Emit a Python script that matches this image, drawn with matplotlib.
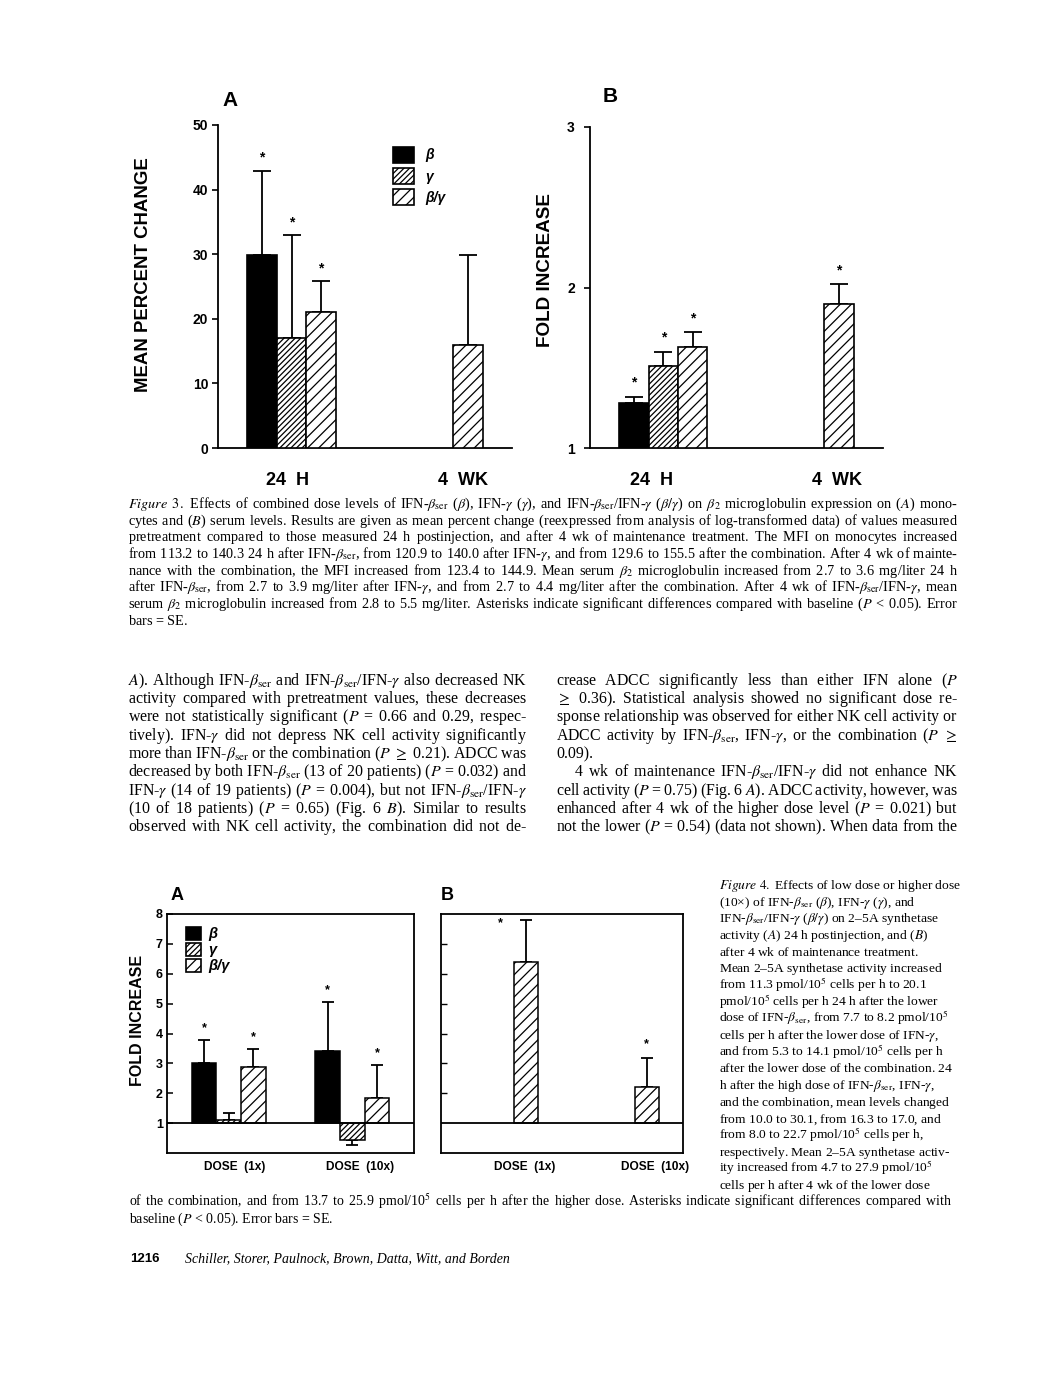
import numpy as np
import matplotlib
matplotlib.use('Agg')
import matplotlib.pyplot as plt
from matplotlib.patches import Patch

plt.rcParams['mathtext.fontset'] = 'stix'
plt.rcParams['hatch.linewidth'] = 0.9

W, H = 1056, 1378
SANS = 'Liberation Sans'
SERIF = 'Liberation Serif'
nan = np.nan

# ---------------- data ----------------
series_labels = ['β', 'γ', 'β/γ']
fig3_groups = ['24  H', '4  WK']
fig4_groups = ['DOSE  (1x)', 'DOSE  (10x)']

# Figure 3A: mean percent change (rows: groups, cols: series)
f3a_mean = [[29.8, 17.0, 21.0], [nan, nan, 16.0]]
f3a_errtop = [[42.9, 32.9, 25.8], [nan, nan, 29.8]]
f3a_sig = [[1, 1, 1], [0, 0, 0]]

# Figure 3B: fold increase
f3b_mean = [[1.28, 1.51, 1.63], [nan, nan, 1.90]]
f3b_errtop = [[1.32, 1.60, 1.72], [nan, nan, 2.02]]
f3b_sig = [[1, 1, 1], [0, 0, 1]]

# Figure 4A: fold increase, 24 h
f4a_mean = [[3.02, 1.09, 2.87], [3.40, 0.45, 1.84]]
f4a_errtop = [[3.79, 1.34, 3.48], [5.04, 0.26, 2.93]]
f4a_sig = [[1, 0, 1], [1, 0, 1]]

# Figure 4B: fold increase, 4 wk
f4b_mean = [[nan, nan, 6.40], [nan, nan, 2.21]]
f4b_errtop = [[nan, nan, 7.80], [nan, nan, 3.18]]
f4b_sig = [[0, 0, 1], [0, 0, 1]]

# ---------------- styles ----------------
group_centers = [2.5, 7.5]
offsets = [-1.0, 0.0, 1.0]
bar_w = 1.0
facecolors = ['black', 'white', 'white']
hatches = [None, '//////', '///']

fig = plt.figure(figsize=(W / 100, H / 100), dpi=100)
renderer = fig.canvas.get_renderer()


def fx(x):
    return x / W


def fy(y):
    return 1 - y / H


def add_ax(l, t, r, b):
    return fig.add_axes([fx(l), fy(b), (r - l) / W, (b - t) / H])


def draw_bars(ax, mean, errtop, sig, base, capsize, star_dx, star_dy, lw=1.2, star_size=9):
    for gi, gc in enumerate(group_centers):
        for si, off in enumerate(offsets):
            v = mean[gi][si]
            if np.isnan(v):
                continue
            x = gc + off
            ax.bar(x, v - base, bottom=base, width=bar_w, facecolor=facecolors[si],
                   edgecolor='black', hatch=hatches[si], linewidth=lw, zorder=3)
            e = errtop[gi][si]
            if v >= base:
                yerr = [[0], [e - v]]
            else:
                yerr = [[v - e], [0]]
            ax.errorbar([x], [v], yerr=yerr, fmt='none', ecolor='black',
                        elinewidth=1.3, capsize=capsize, capthick=1.3, zorder=2)
            if sig[gi][si]:
                ax.annotate('*', (x, e), xytext=(star_dx[gi], star_dy[gi]),
                            textcoords='offset pixels', ha='center', va='center',
                            fontsize=star_size, fontweight='bold', family=SANS)


def legend_handles():
    return [Patch(facecolor=facecolors[i], edgecolor='black', hatch=hatches[i], linewidth=1.2)
            for i in range(3)]


def style_yticks(ax, size):
    for lab in ax.get_yticklabels():
        lab.set_fontweight('bold')
        lab.set_family(SANS)
        lab.set_fontsize(size)


# ---------------- Figure 3A ----------------
ax = add_ax(218, 125, 512, 448)
draw_bars(ax, f3a_mean, f3a_errtop, f3a_sig, 0.0, 6.5, [0, 0], [13, 13], star_size=10)
ax.set_xlim(0, 10)
ax.set_ylim(0, 50)
ax.set_yticks(range(0, 51, 10))
ax.set_xticks([2.35, 8.33])
ax.set_xticklabels(fig3_groups, fontsize=13, fontweight='bold', family=SANS)
ax.tick_params(axis='x', length=0, pad=17)
ax.tick_params(axis='y', direction='out', length=4, width=1.2, pad=3)
style_yticks(ax, 10)
for s in ['top', 'right']:
    ax.spines[s].set_visible(False)
for s in ['left', 'bottom']:
    ax.spines[s].set_linewidth(1.3)
ax.legend(legend_handles(), series_labels, loc='upper left',
          bbox_to_anchor=(fx(393), fy(147)), bbox_transform=fig.transFigure,
          frameon=False, borderpad=0, borderaxespad=0, handlelength=1.5,
          handleheight=1.35, handletextpad=0.8, labelspacing=0.4,
          prop=dict(family=SANS, weight='bold', style='italic', size=10))

# ---------------- Figure 3B ----------------
ax = add_ax(590, 127, 883, 448)
draw_bars(ax, f3b_mean, f3b_errtop, f3b_sig, 1.0, 6.5, [0, 0], [14, 14], star_size=10)
ax.set_xlim(0, 10)
ax.set_ylim(1, 3)
ax.set_yticks([1, 2, 3])
ax.set_xticks([2.1, 8.43])
ax.set_xticklabels(fig3_groups, fontsize=13, fontweight='bold', family=SANS)
ax.tick_params(axis='x', length=0, pad=17)
ax.tick_params(axis='y', direction='out', length=4, width=1.2, pad=7)
style_yticks(ax, 10)
for s in ['top', 'right']:
    ax.spines[s].set_visible(False)
for s in ['left', 'bottom']:
    ax.spines[s].set_linewidth(1.3)

# ---------------- Figure 4A ----------------
ax = add_ax(167, 914, 414, 1153)
ax.axhline(1, color='black', linewidth=1.3, zorder=4)
draw_bars(ax, f4a_mean, f4a_errtop, f4a_sig, 1.0, 4, [0, 0], [12, 12], lw=1.1)
ax.set_xlim(0, 10)
ax.set_ylim(0, 8)
ax.set_yticks(range(1, 9))
ax.set_xticks([2.75, 7.81])
ax.set_xticklabels(fig4_groups, fontsize=8.6, fontweight='bold', family=SANS)
ax.tick_params(axis='x', length=0, pad=6)
ax.tick_params(axis='y', direction='in', length=4, width=1.1, pad=3)
style_yticks(ax, 9)
for s in ax.spines.values():
    s.set_linewidth(1.3)
ax.legend(legend_handles(), series_labels, loc='upper left',
          bbox_to_anchor=(fx(186), fy(927)), bbox_transform=fig.transFigure,
          frameon=False, borderpad=0, borderaxespad=0, handlelength=1.05,
          handleheight=0.95, handletextpad=0.45, labelspacing=0.12,
          prop=dict(family=SANS, weight='bold', style='italic', size=10.5))

# ---------------- Figure 4B ----------------
ax = add_ax(441, 914, 683, 1153)
ax.axhline(1, color='black', linewidth=1.3, zorder=4)
draw_bars(ax, f4b_mean, f4b_errtop, f4b_sig, 1.0, 4, [-25, 0], [-3, 14], lw=1.1)
ax.set_xlim(0, 10)
ax.set_ylim(0, 8)
ax.set_yticks(range(2, 8))
ax.set_yticklabels([])
ax.set_xticks([3.47, 8.84])
ax.set_xticklabels(fig4_groups, fontsize=8.6, fontweight='bold', family=SANS)
ax.tick_params(axis='x', length=0, pad=6)
ax.tick_params(axis='y', direction='in', length=4, width=1.0)
for s in ax.spines.values():
    s.set_linewidth(1.3)


# ---------------- panel letters and axis titles ----------------
def ftxt(x, y, s, **kw):
    return fig.text(fx(x), fy(y), s, **kw)


ftxt(230, 101, 'A', fontsize=15, fontweight='bold', family=SANS, ha='center', va='center')
ftxt(610, 96, 'B', fontsize=15, fontweight='bold', family=SANS, ha='center', va='center')
ftxt(177, 895, 'A', fontsize=13, fontweight='bold', family=SANS, ha='center', va='center')
ftxt(447, 895, 'B', fontsize=13, fontweight='bold', family=SANS, ha='center', va='center')
ftxt(143, 275, 'MEAN PERCENT CHANGE', fontsize=13.4, fontweight='bold', family=SANS,
     rotation=90, ha='center', va='center')
ftxt(545, 270, 'FOLD INCREASE', fontsize=13.6, fontweight='bold', family=SANS,
     rotation=90, ha='center', va='center')
ftxt(138, 1020, 'FOLD INCREASE', fontsize=11.5, fontweight='bold', family=SANS,
     rotation=90, ha='center', va='center')


# ---------------- running text (each line is one text object) ----------------
def conv(w):
    if w.startswith('§'):
        return r'$\mathit{%s}$' % w[1:]
    return w


def put_line(s, x0, x1, yc, size, justify=True, family=SERIF):
    words = [conv(w) for w in s.split()]
    n = len(words)

    def build(g):
        if n == 1:
            return words[0]
        sep = r'$\hspace{%.4f}$' % g
        return sep.join(words)

    t = fig.text(fx(x0), 0.5, build(0), fontsize=size, family=family,
                 ha='left', va='baseline')
    while True:
        t.set_fontsize(size)
        t.set_text(build(0))
        w0 = t.get_window_extent(renderer).width
        px = size * 100 / 72
        if n > 1:
            t.set_text(build(1))
            em = (t.get_window_extent(renderer).width - w0) / (n - 1)
        else:
            em = px
        if w0 + (n - 1) * 0.2 * px <= (x1 - x0) or size < 6:
            break
        size *= 0.98
    if justify and n > 1:
        g = (x1 - x0 - w0) / (n - 1) / em
    else:
        g = 0.25 * px / em
    t.set_text(build(g))
    t.set_position((fx(x0), fy(yc + 0.22 * px)))


cap3 = [
    r"§Figure §3. Effects of combined dose levels of IFN-$\beta_{\mathrm{ser}}$ ($\beta$), IFN-$\gamma$ ($\gamma$), and IFN-$\beta_{\mathrm{ser}}$/IFN-$\gamma$ ($\beta/\gamma$) on $\beta_2$ microglobulin expression on ($A$) mono-",
    r"cytes and ($B$) serum levels. Results are given as mean percent change (reexpressed from analysis of log-transformed data) of values measured",
    r"pretreatment compared to those measured 24 h postinjection, and after 4 wk of maintenance treatment. The MFI on monocytes increased",
    r"from 113.2 to 140.3 24 h after IFN-$\beta_{\mathrm{ser}}$, from 120.9 to 140.0 after IFN-$\gamma$, and from 129.6 to 155.5 after the combination. After 4 wk of mainte-",
    r"nance with the combination, the MFI increased from 123.4 to 144.9. Mean serum $\beta_2$ microglobulin increased from 2.7 to 3.6 mg/liter 24 h",
    r"after IFN-$\beta_{\mathrm{ser}}$, from 2.7 to 3.9 mg/liter after IFN-$\gamma$, and from 2.7 to 4.4 mg/liter after the combination. After 4 wk of IFN-$\beta_{\mathrm{ser}}$/IFN-$\gamma$, mean",
    r"serum $\beta_2$ microglobulin increased from 2.8 to 5.5 mg/liter. Asterisks indicate significant differences compared with baseline ($P$ < 0.05). Error",
    r"bars = SE.",
]
cap3_y = [505, 522, 538, 555, 572, 588, 605, 622]
for i, (s, y) in enumerate(zip(cap3, cap3_y)):
    put_line(s, 128, 958, y, 10.3, justify=(i < len(cap3) - 1))

left_col = [
    r"$A$). Although IFN-$\beta_{\mathrm{ser}}$ and IFN-$\beta_{\mathrm{ser}}$/IFN-$\gamma$ also decreased NK",
    r"activity compared with pretreatment values, these decreases",
    r"were not statistically significant ($P$ = 0.66 and 0.29, respec-",
    r"tively). IFN-$\gamma$ did not depress NK cell activity significantly",
    r"more than IFN-$\beta_{\mathrm{ser}}$ or the combination ($P$ $\geq$ 0.21). ADCC was",
    r"decreased by both IFN-$\beta_{\mathrm{ser}}$ (13 of 20 patients) ($P$ = 0.032) and",
    r"IFN-$\gamma$ (14 of 19 patients) ($P$ = 0.004), but not IFN-$\beta_{\mathrm{ser}}$/IFN-$\gamma$",
    r"(10 of 18 patients) ($P$ = 0.65) (Fig. 6 $B$). Similar to results",
    r"observed with NK cell activity, the combination did not de-",
]
right_col = [
    r"crease ADCC significantly less than either IFN alone ($P$",
    r"$\geq$ 0.36). Statistical analysis showed no significant dose re-",
    r"sponse relationship was observed for either NK cell activity or",
    r"ADCC activity by IFN-$\beta_{\mathrm{ser}}$, IFN-$\gamma$, or the combination ($P$ $\geq$",
    r"0.09).",
    r"4 wk of maintenance IFN-$\beta_{\mathrm{ser}}$/IFN-$\gamma$ did not enhance NK",
    r"cell activity ($P$ = 0.75) (Fig. 6 $A$). ADCC activity, however, was",
    r"enhanced after 4 wk of the higher dose level ($P$ = 0.021) but",
    r"not the lower ($P$ = 0.54) (data not shown). When data from the",
]
body_y = [682, 700, 718, 737, 755, 773, 792, 810, 828]
for s, y in zip(left_col, body_y):
    put_line(s, 128, 527, y, 11.4)
for i, (s, y) in enumerate(zip(right_col, body_y)):
    x0 = 574 if i == 5 else 556
    put_line(s, x0, 958, y, 11.4, justify=(i != 4))

cap4 = [
    r"§Figure §4. Effects of low dose or higher dose",
    r"(10×) of IFN-$\beta_{\mathrm{ser}}$ ($\beta$), IFN-$\gamma$ ($\gamma$), and",
    r"IFN-$\beta_{\mathrm{ser}}$/IFN-$\gamma$ ($\beta/\gamma$) on 2–5A synthetase",
    r"activity ($A$) 24 h postinjection, and ($B$)",
    r"after 4 wk of maintenance treatment.",
    r"Mean 2–5A synthetase activity increased",
    r"from 11.3 pmol/10$^5$ cells per h to 20.1",
    r"pmol/10$^5$ cells per h 24 h after the lower",
    r"dose of IFN-$\beta_{\mathrm{ser}}$, from 7.7 to 8.2 pmol/10$^5$",
    r"cells per h after the lower dose of IFN-$\gamma$,",
    r"and from 5.3 to 14.1 pmol/10$^5$ cells per h",
    r"after the lower dose of the combination. 24",
    r"h after the high dose of IFN-$\beta_{\mathrm{ser}}$, IFN-$\gamma$,",
    r"and the combination, mean levels changed",
    r"from 10.0 to 30.1, from 16.3 to 17.0, and",
    r"from 8.0 to 22.7 pmol/10$^5$ cells per h,",
    r"respectively. Mean 2–5A synthetase activ-",
    r"ity increased from 4.7 to 27.9 pmol/10$^5$",
    r"cells per h after 4 wk of the lower dose",
]
for i, s in enumerate(cap4):
    put_line(s, 719, 960, 886 + i * 16.67, 9.7, justify=False)
put_line(r"of the combination, and from 13.7 to 25.9 pmol/10$^5$ cells per h after the higher dose. Asterisks indicate significant differences compared with",
         129, 952, 1203, 10.0, justify=True)
put_line(r"baseline ($P$ < 0.05). Error bars = SE.", 129, 958, 1220, 10.0, justify=False)

ftxt(130, 1262, '1216', fontsize=9.5, fontweight='bold', family=SANS, ha='left', va='baseline')
ftxt(185, 1262, 'Schiller, Storer, Paulnock, Brown, Datta, Witt, and Borden', fontsize=10,
     style='italic', family=SERIF, ha='left', va='baseline')

fig.savefig('out.png', dpi=100)
